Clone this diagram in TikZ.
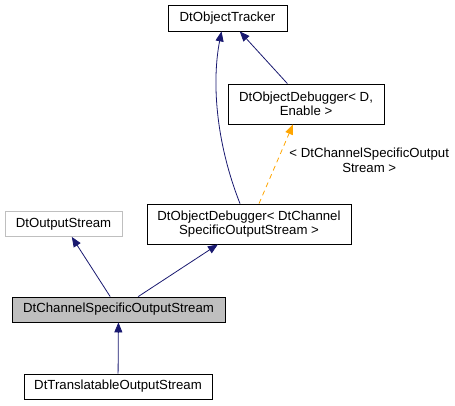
\documentclass[tikz,border=0pt]{standalone}
\usepackage{fontspec}
\setmainfont{Liberation Sans}
\usetikzlibrary{arrows.meta,calc}
\definecolor{navy}{HTML}{191970}
\definecolor{tmplorange}{HTML}{FFA500}
\definecolor{boxgrey}{HTML}{BFBFBF}

\begin{document}
\begin{tikzpicture}[x=1pt, y=-1pt, line width=0.8pt,
      >={Triangle[width=8pt,length=10pt]},
      font=\fontsize{13.2}{14.5}\selectfont,
      cls/.style={draw, fill=white, inner sep=0pt, align=center, minimum height=25pt},
      inherit/.style={navy, ->},
      tmpl/.style={tmplorange, dashed, dash pattern=on 5pt off 4pt, ->}]
    \useasboundingbox (0,0) rectangle (455,405);
    \node (Tracker) [cls, minimum width=119pt, minimum height=26pt] at (227.5,18) {DtObjectTracker};
    \node (DebD) [cls, minimum width=156pt, minimum height=40pt] at (306,104) {DtObjectDebugger< D,\\Enable >};
    \node (OutS) [cls, draw=boxgrey, minimum width=117pt] at (63.5,224) {DtOutputStream};
    \node (DebCSOS) [cls, minimum width=204pt, minimum height=40pt] at (249,224) {DtObjectDebugger< DtChannel\\SpecificOutputStream >};
    \node (CSOS) [cls, fill=boxgrey, minimum width=213pt] at (118.5,309.5) {DtChannelSpecificOutputStream};
    \node (Transl) [cls, minimum width=188pt] at (118,386.5) {DtTranslatableOutputStream};

    \draw[inherit] (Transl) -- (CSOS);
    \draw[inherit] (CSOS) -- (OutS);
    \draw[inherit] (CSOS) -- (DebCSOS);
    \draw[inherit] (DebD) -- (Tracker);
    \draw[inherit] ($(DebCSOS.north)+(-9,0)$) .. controls (215,140) and (212,80) .. ($(Tracker.south)+(-6,0)$);
    \draw[tmpl] ($(DebCSOS.north)+(10,0)$) -- ($(DebD.south)+(-13,0)$)
      node[pos=0.55, right=8pt, black, align=center] {< DtChannelSpecificOutput\\Stream >};
\end{tikzpicture}
\end{document}
